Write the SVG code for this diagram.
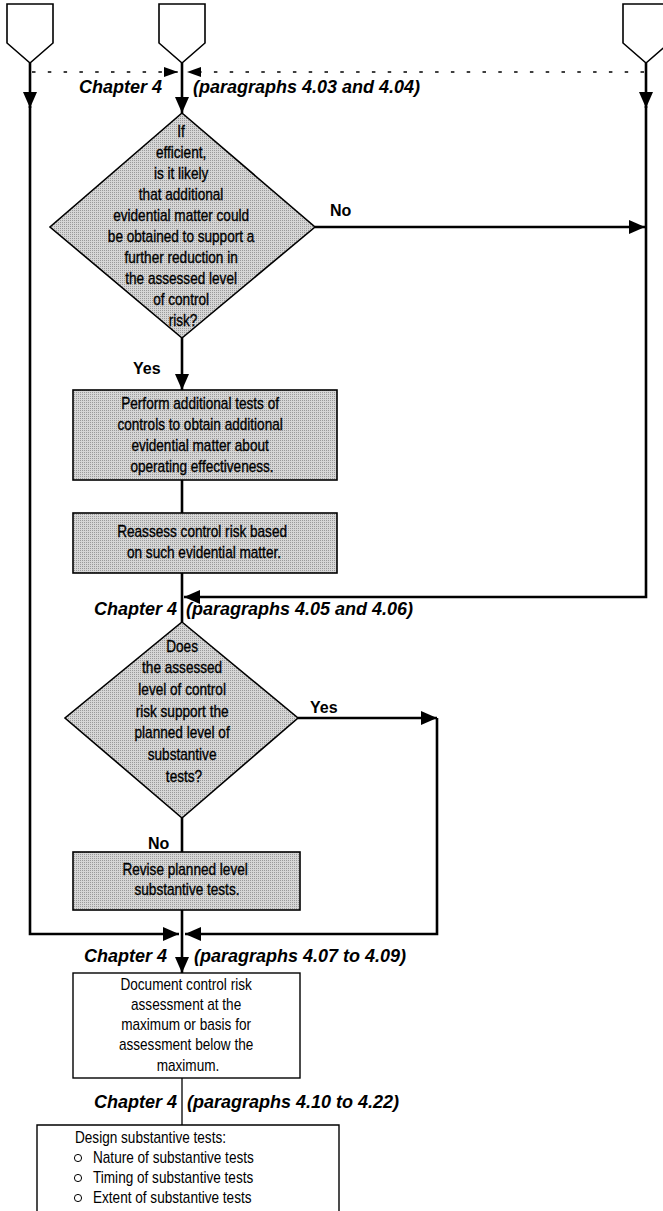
<svg xmlns="http://www.w3.org/2000/svg" width="663" height="1211" viewBox="0 0 663 1211">
  <defs>
    <!-- halftone grey used for decision and process shapes -->
    <pattern id="screen" width="2" height="2" patternUnits="userSpaceOnUse">
      <rect width="2" height="2" fill="#d6d6d6"/>
      <rect width="1" height="1" fill="#9a9a9a"/>
    </pattern>
    <marker id="arrow" viewBox="0 0 16 14" refX="16" refY="7" markerWidth="16" markerHeight="14" markerUnits="userSpaceOnUse" orient="auto">
      <path d="M0,0 L16,7 L0,14 Z" fill="#000"/>
    </marker>
    <marker id="arrow-small" viewBox="0 0 14 10" refX="14" refY="5" markerWidth="14" markerHeight="10" markerUnits="userSpaceOnUse" orient="auto">
      <path d="M0,0 L14,5 L0,10 Z" fill="#000"/>
    </marker>
  </defs>
  <style>
    .offpage { fill: #fff; stroke: #000; stroke-width: 1.6; }
    .grey { fill: url(#screen); stroke: #000; stroke-width: 1.6; }
    .plain { fill: #fff; stroke: #000; stroke-width: 1.4; }
    .flow { fill: none; stroke: #000; stroke-width: 2.6; }
    .thin { fill: none; stroke: #000; stroke-width: 1.3; }
    .dotted { fill: none; stroke: #000; stroke-width: 1.5; stroke-dasharray: 3.5 12.3; }
    /* narrow sans: Liberation Sans squeezed horizontally by the transform on each text */
    .node-text { font-family: "Liberation Sans", Arial, sans-serif; font-size: 16px; fill: #000; text-anchor: middle; }
    .grey-text { stroke: #000; stroke-width: 0.35; }
    .list-text { font-family: "Liberation Sans", Arial, sans-serif; font-size: 16px; fill: #000; }
    .ref { font-family: "Liberation Sans", Arial, sans-serif; font-size: 18px; font-weight: bold; font-style: italic; fill: #000; }
    .branch { font-family: "Liberation Sans", Arial, sans-serif; font-size: 16px; font-weight: bold; fill: #000; }
  </style>

  <!-- off-page connectors along the top -->
  <g id="offpage-left"><path class="offpage" d="M7,4 H53 V43 L30,63 L7,43 Z"/></g>
  <g id="offpage-middle"><path class="offpage" d="M159,4 H205 V43 L182,63 L159,43 Z"/></g>
  <g id="offpage-right"><path class="offpage" d="M623,4 H669 V43 L646,63 L623,43 Z"/></g>

  <!-- connectors -->
  <g id="connectors">
    <path class="dotted" d="M32,72 H178" marker-end="url(#arrow-small)"/>
    <path class="dotted" d="M644,72 H187" marker-end="url(#arrow-small)"/>
    <path class="flow" d="M30,63 V108" marker-end="url(#arrow)"/>
    <path class="flow" d="M30,106 V934 H179" marker-end="url(#arrow)"/>
    <path class="flow" d="M182,63 V113" marker-end="url(#arrow)"/>
    <path class="flow" d="M646,63 V108" marker-end="url(#arrow)"/>
    <path class="flow" d="M646,106 V597 H184" marker-end="url(#arrow)"/>
    <path class="flow" d="M315,227 H645" marker-end="url(#arrow)"/>
    <path class="flow" d="M182,338 V390" marker-end="url(#arrow)"/>
    <path class="flow" d="M182,480 V513"/>
    <path class="flow" d="M182,573 V622"/>
    <path class="flow" d="M298,718 H437" marker-end="url(#arrow)"/>
    <path class="flow" d="M437,718 V934 H185" marker-end="url(#arrow)"/>
    <path class="flow" d="M182,818 V852"/>
    <path class="flow" d="M182,910 V973" marker-end="url(#arrow)"/>
    <path class="thin" d="M182,1078 V1125"/>
  </g>

  <!-- chapter references -->
  <g id="ref-403">
    <text class="ref" x="162" y="93" text-anchor="end">Chapter 4</text>
    <text class="ref" x="193" y="93">(paragraphs 4.03 and 4.04)</text>
  </g>
  <g id="ref-405">
    <text class="ref" x="177" y="615" text-anchor="end">Chapter 4</text>
    <text class="ref" x="186" y="615">(paragraphs 4.05 and 4.06)</text>
  </g>
  <g id="ref-407">
    <text class="ref" x="167" y="962" text-anchor="end">Chapter 4</text>
    <text class="ref" x="194" y="962">(paragraphs 4.07 to 4.09)</text>
  </g>
  <g id="ref-410">
    <text class="ref" x="177" y="1108" text-anchor="end">Chapter 4</text>
    <text class="ref" x="187" y="1108">(paragraphs 4.10 to 4.22)</text>
  </g>

  <!-- branch labels -->
  <text class="branch" x="330" y="216">No</text>
  <text class="branch" x="133" y="374">Yes</text>
  <text class="branch" x="310" y="713">Yes</text>
  <text class="branch" x="148" y="849">No</text>

  <!-- decision: further reduction in control risk -->
  <g id="decision-further-reduction">
    <path class="grey" d="M182,113 L315,227 L182,338 L50,227 Z"/>
    <text class="node-text grey-text" transform="matrix(0.85 0 0 1 27.45 0)">
      <tspan x="183" y="137">If</tspan>
      <tspan x="183" y="158">efficient,</tspan>
      <tspan x="183" y="179">is it likely</tspan>
      <tspan x="183" y="200">that additional</tspan>
      <tspan x="183" y="221">evidential matter could</tspan>
      <tspan x="183" y="242">be obtained to support a</tspan>
      <tspan x="183" y="263">further reduction in</tspan>
      <tspan x="183" y="284">the assessed level</tspan>
      <tspan x="183" y="305">of control</tspan>
      <tspan x="183" y="326">risk?</tspan>
    </text>
  </g>

  <!-- process: additional tests of controls -->
  <g id="perform-additional-tests">
    <rect class="grey" x="73" y="390" width="264" height="90"/>
    <text class="node-text grey-text" transform="matrix(0.85 0 0 1 30.3 0)">
      <tspan x="202" y="409">Perform additional tests of</tspan>
      <tspan x="202" y="430">controls to obtain additional</tspan>
      <tspan x="202" y="451">evidential matter about</tspan>
      <tspan x="202" y="472">operating effectiveness.</tspan>
    </text>
  </g>

  <!-- process: reassess control risk -->
  <g id="reassess-control-risk">
    <rect class="grey" x="73" y="513" width="264" height="60"/>
    <text class="node-text grey-text" transform="matrix(0.85 0 0 1 30.6 0)">
      <tspan x="204" y="537">Reassess control risk based</tspan>
      <tspan x="204" y="558">on such evidential matter.</tspan>
    </text>
  </g>

  <!-- decision: support for planned substantive tests -->
  <g id="decision-support-planned">
    <path class="grey" d="M182,622 L298,718 L182,818 L65,718 Z"/>
    <text class="node-text grey-text" transform="matrix(0.85 0 0 1 27.6 0)">
      <tspan x="184" y="652">Does</tspan>
      <tspan x="184" y="673">the assessed</tspan>
      <tspan x="184" y="695">level of control</tspan>
      <tspan x="184" y="717">risk support the</tspan>
      <tspan x="184" y="738">planned level of</tspan>
      <tspan x="184" y="760">substantive</tspan>
      <tspan x="184" y="782">tests?</tspan>
    </text>
  </g>

  <!-- process: revise planned level -->
  <g id="revise-planned-level">
    <rect class="grey" x="73" y="852" width="227" height="58"/>
    <text class="node-text grey-text" transform="matrix(0.85 0 0 1 28.05 0)">
      <tspan x="187" y="875">Revise planned level</tspan>
      <tspan x="187" y="895">substantive tests.</tspan>
    </text>
  </g>

  <!-- process: document the assessment -->
  <g id="document-assessment">
    <rect class="plain" x="73" y="973" width="227" height="105"/>
    <text class="node-text" transform="matrix(0.85 0 0 1 28.2 0)">
      <tspan x="188" y="990">Document control risk</tspan>
      <tspan x="188" y="1010">assessment at the</tspan>
      <tspan x="188" y="1030">maximum or basis for</tspan>
      <tspan x="188" y="1050">assessment below the</tspan>
      <tspan x="188" y="1071">maximum.</tspan>
    </text>
  </g>

  <!-- process: design substantive tests -->
  <g id="design-substantive-tests">
    <path class="plain" d="M37,1215 V1125 H339 V1215"/>
    <text class="list-text" x="75" y="1143" transform="matrix(0.85 0 0 1 11.25 0)">Design substantive tests:</text>
    <circle cx="78" cy="1158" r="3.6" fill="none" stroke="#000" stroke-width="1"/>
    <text class="list-text" x="93" y="1163" transform="matrix(0.85 0 0 1 13.95 0)">Nature of substantive tests</text>
    <circle cx="78" cy="1178" r="3.6" fill="none" stroke="#000" stroke-width="1"/>
    <text class="list-text" x="93" y="1183" transform="matrix(0.85 0 0 1 13.95 0)">Timing of substantive tests</text>
    <circle cx="78" cy="1198" r="3.6" fill="none" stroke="#000" stroke-width="1"/>
    <text class="list-text" x="93" y="1203" transform="matrix(0.85 0 0 1 13.95 0)">Extent of substantive tests</text>
  </g>
</svg>
